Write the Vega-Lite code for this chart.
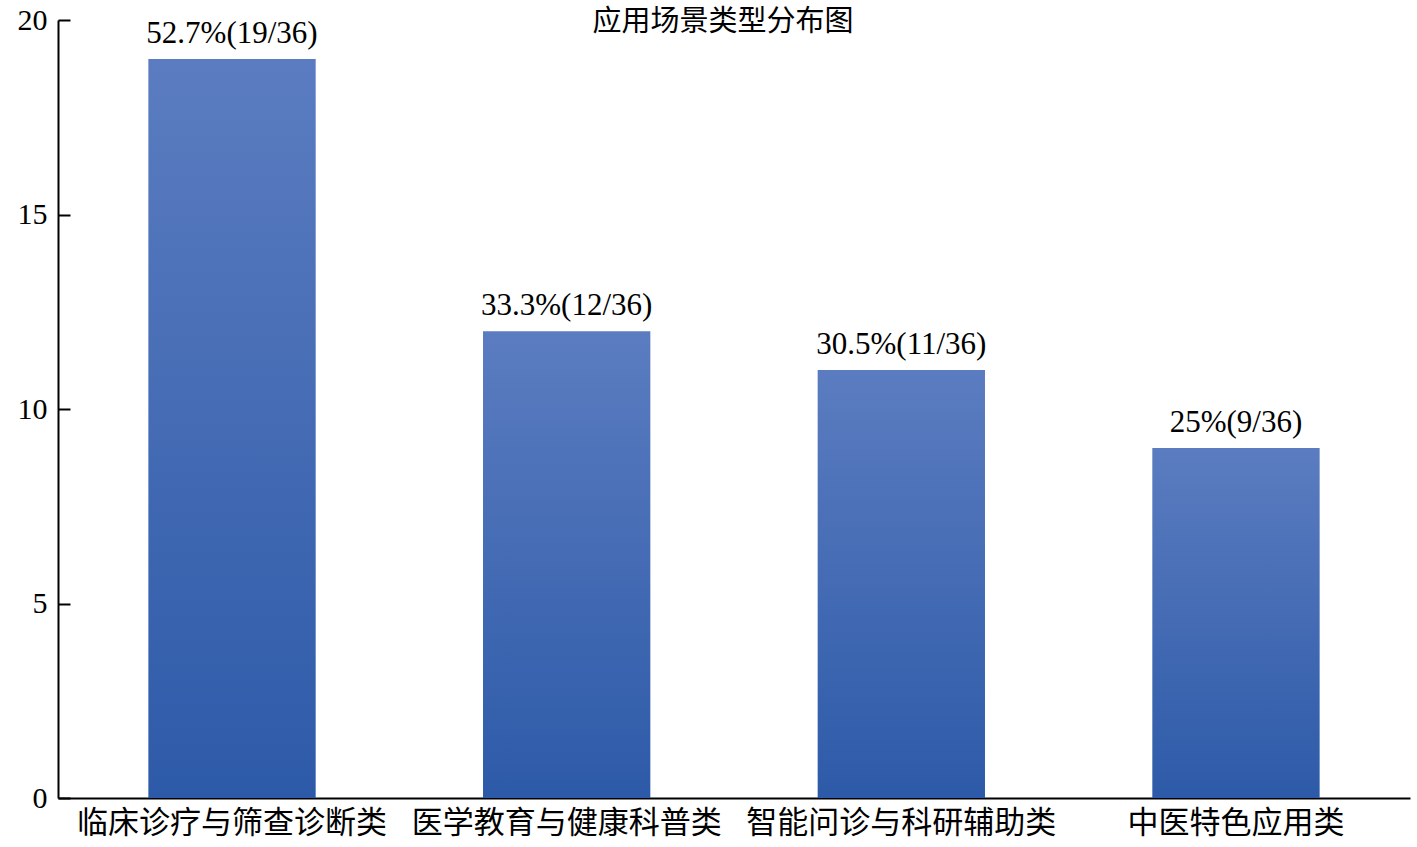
{
  "$schema": "https://vega.github.io/schema/vega-lite/v6.json",
  "width": 1352,
  "height": 778,
  "autosize": {"type": "none"},
  "padding": {"left": 58, "top": 20, "right": 7, "bottom": 49},
  "background": "white",
  "title": {
    "text": "应用场景类型分布图",
    "font": "Noto Sans CJK SC",
    "fontSize": 29,
    "fontWeight": "normal",
    "color": "black",
    "anchor": "middle",
    "baseline": "bottom",
    "offset": -61,
    "dx": -11
  },
  "data": {
    "values": [
      {"category": "临床诊疗与筛查诊断类", "count": 19, "label": "52.7%(19/36)"},
      {"category": "医学教育与健康科普类", "count": 12, "label": "33.3%(12/36)"},
      {"category": "智能问诊与科研辅助类", "count": 11, "label": "30.5%(11/36)"},
      {"category": "中医特色应用类", "count": 9, "label": "25%(9/36)"}
    ]
  },
  "encoding": {
    "x": {
      "field": "category",
      "type": "nominal",
      "sort": null,
      "title": null,
      "scale": {"paddingInner": 0.5, "paddingOuter": 0.27},
      "axis": {
        "labelAngle": 0,
        "labelFont": "Noto Sans CJK SC",
        "labelFontSize": 31,
        "labelLimit": 0,
        "labelColor": "black",
        "labelPadding": 10,
        "ticks": false,
        "domainColor": "black",
        "domainWidth": 2,
        "grid": false
      }
    },
    "y": {
      "field": "count",
      "type": "quantitative",
      "title": null,
      "scale": {"domain": [0, 20]},
      "axis": {
        "values": [0, 5, 10, 15, 20],
        "labelFont": "Liberation Serif",
        "labelFontSize": 30,
        "labelColor": "black",
        "tickSize": -12,
        "tickColor": "black",
        "tickWidth": 2,
        "labelPadding": 23,
        "domainColor": "black",
        "domainWidth": 2,
        "grid": false
      }
    }
  },
  "layer": [
    {
      "mark": {
        "type": "bar",
        "color": {
          "gradient": "linear",
          "x1": 0, "y1": 0, "x2": 0, "y2": 1,
          "stops": [
            {"offset": 0, "color": "#5b7cc0"},
            {"offset": 1, "color": "#2d5aa8"}
          ]
        }
      }
    },
    {
      "mark": {
        "type": "text",
        "font": "Liberation Serif",
        "fontSize": 31,
        "color": "black",
        "baseline": "bottom",
        "dy": -9
      },
      "encoding": {"text": {"field": "label"}}
    }
  ],
  "config": {"view": {"stroke": null}}
}
